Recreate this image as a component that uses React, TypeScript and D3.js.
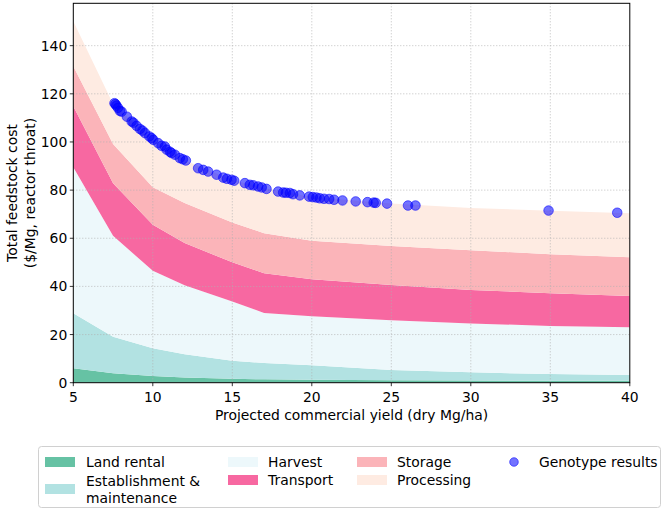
import React from "react";
import * as d3 from "d3";

const yields = [5, 7.5, 10, 12, 15, 17, 20, 25, 30, 35, 40];
const landRental = [6.0, 3.9, 2.8, 2.2, 1.6, 1.4, 1.2, 1.0, 0.9, 0.8, 0.8];
const establishment = [22.9, 15.2, 11.5, 9.6, 7.5, 6.8, 6.0, 4.3, 3.4, 2.8, 2.4];
const harvest = [60.6, 41.9, 32.2, 28.7, 24.6, 20.8, 20.4, 20.6, 20.3, 20.0, 19.8];
const transport = [25.3, 21.9, 19.1, 17.5, 16.3, 16.5, 15.4, 14.7, 13.9, 13.6, 13.0];
const storage = [16.6, 16.3, 15.6, 16.6, 16.5, 16.6, 16.0, 16.2, 16.5, 16.2, 16.1];
const processing = [18.7, 16.6, 19.8, 17.8, 17.7, 18.7, 18.1, 17.6, 17.6, 18.0, 18.3];

const genotypeYield = [7.59, 7.65, 7.71, 7.81, 7.93, 8.04, 8.37, 8.67, 8.78, 8.98, 9.19, 9.35, 9.51, 9.78, 9.93, 10.03, 10.34, 10.55, 10.76, 10.87, 11.08, 11.18, 11.39, 11.7, 11.89, 12.08, 12.85, 13.17, 13.48, 14.01, 14.43, 14.66, 14.95, 15.12, 15.79, 16.1, 16.32, 16.62, 16.85, 17.15, 17.88, 18.2, 18.37, 18.62, 18.82, 19.24, 19.83, 20.06, 20.29, 20.5, 20.77, 21.09, 21.4, 21.93, 22.76, 23.5, 23.89, 24.02, 24.73, 26.05, 26.52, 34.89, 39.21];
const genotypeCost = [116.1, 115.7, 115.1, 114.2, 112.9, 112.6, 110.5, 108.5, 108.0, 106.7, 105.4, 104.7, 103.7, 102.3, 101.6, 100.9, 99.5, 98.4, 98.1, 96.8, 95.9, 95.4, 94.7, 93.3, 92.8, 92.3, 89.1, 88.4, 87.7, 86.4, 85.2, 84.7, 84.3, 83.9, 82.9, 82.2, 82.0, 81.5, 81.1, 80.5, 79.4, 79.0, 78.9, 78.8, 78.3, 77.8, 77.3, 77.1, 76.9, 76.6, 76.4, 76.3, 76.0, 75.7, 75.3, 75.0, 74.8, 74.7, 74.4, 73.6, 73.6, 71.5, 70.6];

const xTicks = [5, 10, 15, 20, 25, 30, 35, 40];
const yTicks = [0, 20, 40, 60, 80, 100, 120, 140];

const seriesNames = ["Land rental", "Establishment & maintenance", "Harvest", "Transport", "Storage", "Processing"];
const seriesColors = ["#66c2a4", "#b2e2e2", "#edf8fb", "#f768a1", "#fbb4b9", "#feebe2"];

const FONT = "DejaVu Sans, sans-serif";
const FS = 13.9;

export default function App() {
  const left = 73.3, right = 629.8, top = 3.3, bottom = 382.7;
  const x = d3.scaleLinear().domain([5, 40]).range([left, right]);
  const y = d3.scaleLinear().domain([0, 157.6]).range([bottom, top]);

  const allSeries = [landRental, establishment, harvest, transport, storage, processing];
  const rows = yields.map((yv, i) => {
    const r: any = { x: yv };
    seriesNames.forEach((n, k) => (r[n] = allSeries[k][i]));
    return r;
  });
  const stacked = d3.stack().keys(seriesNames)(rows);
  const area = d3
    .area<any>()
    .x((d) => x(d.data.x))
    .y0((d) => y(d[0]))
    .y1((d) => y(d[1]));

  const gridColor = "#b0b0b0";

  return (
    <svg width={666} height={512} style={{ position: "absolute", left: 0, top: 0, background: "#fff" }} fontFamily={FONT}>
      <defs>
        <clipPath id="plotclip">
          <rect x={left} y={top} width={right - left} height={bottom - top} />
        </clipPath>
      </defs>
      <g clipPath="url(#plotclip)">
        {stacked.map((s, k) => (
          <path key={k} d={area(s as any) || ""} fill={seriesColors[k]} stroke="none" />
        ))}
      </g>
      {xTicks.slice(1, -1).map((t) => (
        <line key={"gx" + t} x1={x(t)} x2={x(t)} y1={top} y2={bottom} stroke={gridColor} strokeWidth={0.8} strokeDasharray="1,2" />
      ))}
      {yTicks.slice(1).map((t) => (
        <line key={"gy" + t} x1={left} x2={right} y1={y(t)} y2={y(t)} stroke={gridColor} strokeWidth={0.8} strokeDasharray="1,2" />
      ))}
      <g clipPath="url(#plotclip)">
        {genotypeYield.map((gx, i) => (
          <circle key={i} cx={x(gx)} cy={y(genotypeCost[i])} r={4.8} fill="#0000ff" fillOpacity={0.55} stroke="#0000ff" strokeOpacity={0.55} strokeWidth={1} />
        ))}
      </g>
      <rect x={left} y={top} width={right - left} height={bottom - top} fill="none" stroke="#000" strokeWidth={1} />
      {xTicks.map((t) => (
        <g key={"xt" + t}>
          <line x1={x(t)} x2={x(t)} y1={bottom} y2={bottom + 3.5} stroke="#000" strokeWidth={0.8} />
          <text x={x(t)} y={bottom + 19.5} fontSize={FS} textAnchor="middle" fill="#000">{t}</text>
        </g>
      ))}
      {yTicks.map((t) => (
        <g key={"yt" + t}>
          <line x1={left - 3.5} x2={left} y1={y(t)} y2={y(t)} stroke="#000" strokeWidth={0.8} />
          <text x={left - 6} y={y(t) + 5} fontSize={FS} textAnchor="end" fill="#000">{t}</text>
        </g>
      ))}
      <text x={(left + right) / 2} y={419.5} fontSize={FS} textAnchor="middle" fill="#000">Projected commercial yield (dry Mg/ha)</text>
      <g transform={`translate(17, ${(top + bottom) / 2}) rotate(-90)`}>
        <text x={0} y={0} fontSize={FS} textAnchor="middle" fill="#000">Total feedstock cost</text>
        <text x={0} y={17.5} fontSize={FS} textAnchor="middle" fill="#000">($/Mg, reactor throat)</text>
      </g>
      <rect x={38.5} y={446.5} width={622} height={61} rx={3} fill="#fff" stroke="#d0d0d0" strokeWidth={1} />
      {[
        { k: 0, px: 45, tx: 86, rowY: 462, lines: ["Land rental"] },
        { k: 1, px: 45, tx: 86, rowY: 489, lines: ["Establishment &", "maintenance"] },
        { k: 2, px: 228, tx: 268, rowY: 462, lines: ["Harvest"] },
        { k: 3, px: 228, tx: 268, rowY: 480, lines: ["Transport"] },
        { k: 4, px: 357, tx: 397, rowY: 462, lines: ["Storage"] },
        { k: 5, px: 357, tx: 397, rowY: 480, lines: ["Processing"] },
      ].map((e) => (
        <g key={"lg" + e.k}>
          <rect x={e.px} y={e.rowY - 5} width={30} height={10} fill={seriesColors[e.k]} />
          {e.lines.map((ln, j) => (
            <text key={j} x={e.tx} y={e.rowY + 5 + (j - (e.lines.length - 1) / 2) * 17} fontSize={FS} fill="#000">{ln}</text>
          ))}
        </g>
      ))}
      <circle cx={514} cy={462} r={4.3} fill="#0000ff" fillOpacity={0.55} stroke="#0000ff" strokeOpacity={0.55} />
      <text x={539} y={467} fontSize={FS} fill="#000">Genotype results</text>
    </svg>
  );
}
